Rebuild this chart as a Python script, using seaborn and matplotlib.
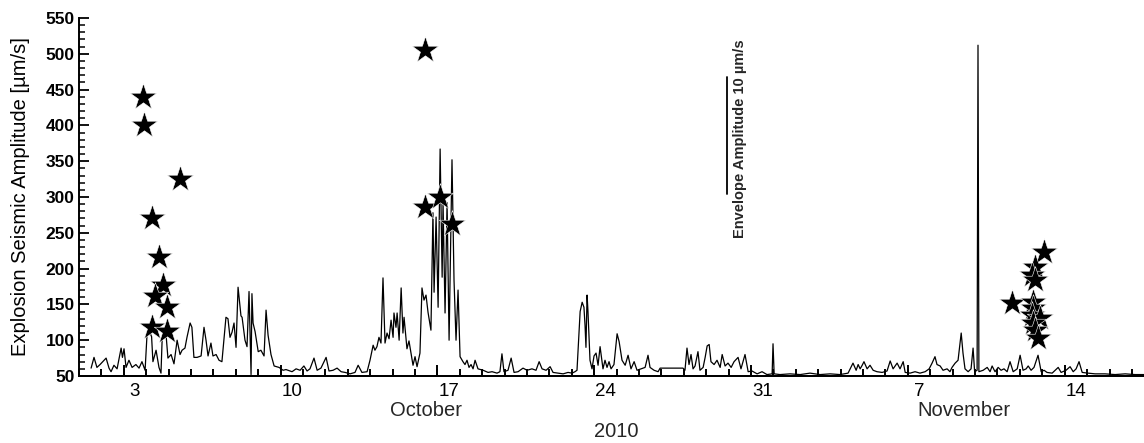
import numpy as np
import pandas as pd
import matplotlib
matplotlib.use('Agg')
import matplotlib.pyplot as plt
import matplotlib.dates as mdates
from matplotlib.ticker import MultipleLocator
import seaborn as sns

# Envelope amplitude (days after 2010-10-01 00:00)
env_day = [0.54, 0.67, 0.80, 0.94, 1.12, 1.21, 1.34, 1.43, 1.56, 1.70,
           1.88, 1.94, 2.01, 2.10, 2.23, 2.37, 2.54, 2.68, 2.81, 2.95,
           3.04, 3.12, 3.24, 3.30, 3.44, 3.57, 3.66, 3.71, 3.79, 3.88,
           3.97, 4.11, 4.24, 4.38, 4.51, 4.60, 4.73, 4.82, 4.96, 5.04,
           5.13, 5.27, 5.45, 5.58, 5.67, 5.76, 5.89, 5.98, 6.12, 6.25,
           6.38, 6.56, 6.65, 6.74, 6.83, 6.92, 7.01, 7.10, 7.23, 7.28,
           7.41, 7.50, 7.59, 7.68, 7.72, 7.77, 7.86, 8.00, 8.12, 8.26,
           8.35, 8.44, 8.57, 8.71, 8.93, 9.11, 9.24, 9.42, 9.51, 9.69,
           9.87, 10.04, 10.18, 10.31, 10.49, 10.63, 10.80, 11.03, 11.16, 11.34,
           11.52, 11.70, 11.88, 12.10, 12.32, 12.46, 12.63, 12.86, 12.99, 13.13,
           13.21, 13.30, 13.39, 13.48, 13.57, 13.66, 13.75, 13.84, 13.93, 14.02,
           14.06, 14.15, 14.20, 14.29, 14.38, 14.46, 14.51, 14.64, 14.73, 14.82,
           14.91, 15.00, 15.09, 15.22, 15.31, 15.40, 15.49, 15.58, 15.71, 15.80,
           15.85, 15.94, 16.03, 16.12, 16.21, 16.25, 16.34, 16.43, 16.52, 16.65,
           16.74, 16.83, 16.92, 17.01, 17.14, 17.23, 17.32, 17.41, 17.50, 17.59,
           17.68, 17.81, 18.04, 18.26, 18.44, 18.66, 18.79, 18.88, 18.97, 19.15,
           19.29, 19.42, 19.60, 19.82, 20.00, 20.22, 20.40, 20.54, 20.67, 20.85,
           21.03, 21.16, 21.38, 21.61, 21.83, 22.01, 22.14, 22.23, 22.37, 22.46,
           22.54, 22.59, 22.63, 22.68, 22.72, 22.81, 22.90, 22.99, 23.08, 23.17,
           23.26, 23.39, 23.48, 23.57, 23.66, 23.75, 23.88, 24.02, 24.11, 24.24,
           24.38, 24.51, 24.64, 24.78, 24.91, 25.09, 25.27, 25.40, 25.49, 25.67,
           25.85, 25.94, 26.96, 27.05, 27.14, 27.23, 27.32, 27.41, 27.50, 27.63,
           27.72, 27.86, 27.95, 28.04, 28.13, 28.21, 28.35, 28.48, 28.62, 28.71,
           28.84, 28.97, 29.11, 29.24, 29.42, 29.55, 29.73, 29.87, 30.04, 30.27,
           30.49, 30.71, 30.94, 30.98, 31.03, 31.29, 31.74, 32.19, 32.63, 33.08,
           33.53, 33.97, 34.33, 34.55, 34.69, 34.78, 34.87, 34.96, 35.04, 35.18,
           35.31, 35.45, 35.62, 35.85, 36.07, 36.21, 36.34, 36.52, 36.65, 36.79,
           36.88, 37.10, 37.32, 37.54, 37.77, 37.95, 38.08, 38.21, 38.30, 38.44,
           38.57, 38.75, 38.88, 38.97, 39.11, 39.24, 39.38, 39.46, 39.55, 39.69,
           39.82, 39.91, 39.98, 40.09, 40.13, 40.17, 40.36, 40.54, 40.67,
           40.76, 40.89, 41.03, 41.16, 41.29, 41.43, 41.56, 41.70, 41.88, 42.01,
           42.14, 42.28, 42.37, 42.50, 42.63, 42.81, 42.95, 43.08, 43.21, 43.44,
           43.71, 43.84, 44.06, 44.24, 44.38, 44.51, 44.64, 44.78, 45.04, 45.36,
           45.80, 46.25, 46.70, 47.14, 47.54]
env_amp = [61, 76, 62, 66, 72, 75, 61, 56, 65, 60,
           89, 76, 88, 62, 72, 62, 66, 61, 70, 58,
           110, 114, 105, 70, 86, 62, 54, 100, 114, 110,
           75, 80, 67, 100, 80, 86, 89, 104, 124, 118,
           76, 76, 78, 118, 100, 78, 96, 78, 80, 72,
           70, 132, 130, 104, 111, 124, 90, 174, 134, 132,
           100, 91, 168, 52, 165, 124, 112, 84, 86, 78,
           142, 107, 80, 64, 62, 58, 59, 57, 56, 60,
           58, 64, 57, 60, 75, 58, 61, 76, 57, 58,
           61, 56, 55, 53, 55, 65, 55, 56, 72, 93,
           86, 91, 104, 96, 187, 96, 110, 102, 128, 104,
           138, 118, 138, 100, 173, 110, 132, 88, 99, 82,
           65, 77, 63, 82, 173, 156, 163, 139, 114, 278,
           167, 272, 146, 367, 188, 292, 138, 292, 100, 352,
           184, 100, 170, 77, 70, 66, 72, 62, 66, 60,
           72, 60, 58, 55, 56, 54, 56, 81, 56, 58,
           75, 55, 56, 61, 58, 60, 58, 70, 60, 58,
           63, 55, 54, 53, 55, 54, 56, 58, 140, 153,
           146, 120, 90, 163, 140, 72, 60, 78, 82, 65,
           91, 60, 72, 62, 70, 60, 66, 109, 98, 72,
           65, 79, 60, 70, 58, 60, 62, 79, 62, 58,
           56, 61, 61, 58, 89, 66, 80, 60, 64, 84,
           58, 62, 76, 92, 94, 70, 66, 72, 62, 80,
           64, 68, 62, 70, 76, 60, 80, 56, 57, 53,
           56, 52, 53, 95, 53, 52, 53, 52, 54, 52,
           53, 52, 54, 68, 58, 66, 60, 65, 70, 60,
           65, 58, 56, 55, 57, 71, 60, 68, 60, 70,
           55, 54, 56, 54, 56, 60, 68, 77, 66, 64,
           58, 60, 56, 62, 68, 72, 110, 82, 60, 56,
           60, 89, 56, 58, 512, 56, 58, 62, 56,
           64, 56, 62, 58, 60, 56, 70, 56, 60, 79,
           58, 60, 64, 58, 62, 79, 56, 58, 55, 54,
           62, 55, 58, 63, 56, 60, 70, 55, 54, 53,
           53, 52, 53, 52, 52]

# Explosions (stars)
star_day = [2.86, 2.90, 4.51, 3.26, 3.57, 3.75, 3.39, 3.93, 3.26, 3.93,
            15.45, 15.45, 16.12, 16.65,
            43.08, 42.68, 42.54, 42.68, 41.65, 42.59, 42.59, 42.54, 42.90,
            42.59, 42.68, 42.81]
star_amp = [440, 400, 325, 270, 216, 177, 162, 146, 118, 113,
            505, 286, 300, 262,
            223, 202, 191, 184, 152, 153, 145, 135, 131, 124, 114, 103]

tick_dates = ['2010-10-03', '2010-10-10', '2010-10-17', '2010-10-24',
              '2010-10-31', '2010-11-07', '2010-11-14']
tick_labels = ['3', '10', '17', '24', '31', '7', '14']

start = pd.Timestamp('2010-10-01')
env = pd.DataFrame({'time': start + pd.to_timedelta(env_day, unit='D'),
                    'amp': env_amp})
stars = pd.DataFrame({'time': start + pd.to_timedelta(star_day, unit='D'),
                      'amp': star_amp})

sns.set_style('ticks')
plt.rcParams['font.family'] = ['Liberation Sans', 'DejaVu Sans']

fig = plt.figure(figsize=(11.44, 4.43), dpi=100)
ax = fig.add_axes([79 / 1144, 67 / 443, 1065 / 1144, 358 / 443])

sns.lineplot(data=env, x='time', y='amp', color='black', lw=0.9,
             estimator=None, sort=False, ax=ax)
sns.scatterplot(data=stars, x='time', y='amp', marker='*', s=400,
                color='black', edgecolor='white', linewidth=0.4,
                zorder=3, ax=ax)

ax.set_xlim(start, start + pd.Timedelta(days=47.54))
ax.set_ylim(50, 550)
ax.spines[['top', 'right']].set_visible(False)
ax.spines[['left', 'bottom']].set_linewidth(1.4)
ax.spines[['left', 'bottom']].set_color('black')

# y axis
ax.yaxis.set_major_locator(MultipleLocator(50))
ax.yaxis.set_minor_locator(MultipleLocator(10))
ax.tick_params(axis='y', which='major', direction='in', length=7, width=1.3,
               color='black', pad=3, labelsize=12.5, labelcolor='black')
ax.tick_params(axis='y', which='minor', direction='in', length=4, width=1.1,
               color='black')
for t in ax.get_yticklabels():
    t.set_fontweight('bold')
ax.set_ylabel('Explosion Seismic Amplitude [µm/s]', fontsize=14.5, color='black')
ax.yaxis.set_label_coords(-0.046, 0.5)

# x axis: labels at noon, long ticks at week starts, short ticks daily
week = pd.to_datetime(tick_dates)
ax.set_xticks(week + pd.Timedelta(hours=12), tick_labels)
ax.tick_params(axis='x', which='major', length=0, pad=5, labelsize=13.5,
               labelcolor='black')
ax.xaxis.set_minor_locator(mdates.DayLocator())
ax.tick_params(axis='x', which='minor', direction='in', length=5, width=1.4,
               color='black')
ax.set_xlabel('')

sec = ax.secondary_xaxis('bottom')
sec.set_xticks(mdates.date2num(week))
sec.set_xticklabels([])
sec.tick_params(direction='in', length=8, width=1.4, color='black')
sec.spines['bottom'].set_linewidth(1.4)
sec.spines['bottom'].set_color('black')

xt = ax.get_xaxis_transform()
ax.text(mdates.date2num(pd.Timestamp('2010-10-16 12:00')), -0.095, 'October',
        transform=xt, ha='center', va='center', fontsize=14.5)
ax.text(mdates.date2num(pd.Timestamp('2010-11-09 12:00')), -0.095, 'November',
        transform=xt, ha='center', va='center', fontsize=14.5)
ax.text(mdates.date2num(pd.Timestamp('2010-10-25')), -0.156, '2010',
        transform=xt, ha='center', va='center', fontsize=14.5)

# scale bar for the envelope
bar_x = start + pd.Timedelta(days=28.93)
ax.plot([bar_x, bar_x], [304, 467.6], color='black', lw=1.3)
ax.text(start + pd.Timedelta(days=29.51), 381, 'Envelope Amplitude 10 µm/s',
        rotation=90, ha='center', va='center', fontsize=10.5, fontweight='bold')

fig.savefig('out.png', dpi=100)
